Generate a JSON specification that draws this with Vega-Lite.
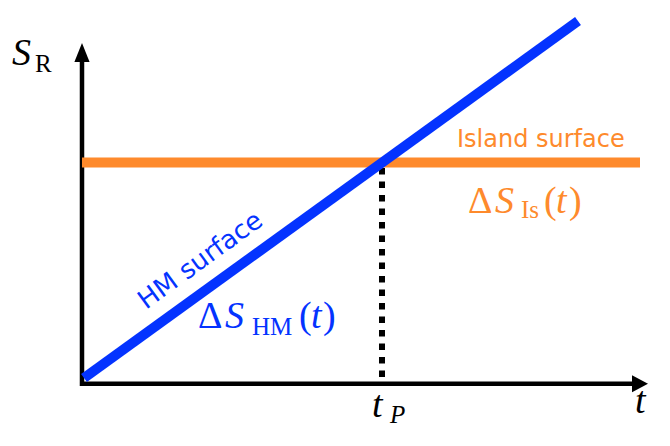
{
  "$schema": "https://vega.github.io/schema/vega-lite/v6.json",
  "width": 670,
  "height": 446,
  "autosize": {"type": "fit", "contains": "padding"},
  "padding": 0,
  "background": "white",
  "config": {"view": {"stroke": null}},
  "datasets": {
    "island": [{"t": 0, "S": 1, "series": "island"}, {"t": 1.86, "S": 1, "series": "island"}],
    "hm": [{"t": 0.0067, "S": 0.0227, "series": "hm"}, {"t": 1.6533, "S": 1.6417, "series": "hm"}],
    "axes": [
      {"t": 0, "S": -0.0136, "t2": 0, "S2": 1.47, "series": "axis"},
      {"t": -0.0067, "S": -0.003, "t2": 1.84, "S2": -0.003, "series": "axis"}
    ],
    "tp": [{"t": 1, "S": 0.027, "S2": 0.975, "series": "axis"}],
    "arrowUp": [{"t": 0, "S": 1.4989, "series": "axis"}],
    "arrowRight": [{"t": 1.86, "S": -0.003, "series": "axis"}],
    "mathItalic": [
      {"t": -0.2333, "S": 1.4422, "txt": "S", "series": "axis"},
      {"t": 0.9667, "S": -0.1542, "txt": "t", "series": "axis"},
      {"t": 1.8433, "S": -0.1361, "txt": "t", "series": "axis"},
      {"t": 1.3767, "S": 0.771, "txt": "S", "series": "island"},
      {"t": 1.58, "S": 0.771, "txt": "t", "series": "island"},
      {"t": 0.4767, "S": 0.2494, "txt": "S", "series": "hm"},
      {"t": 0.7633, "S": 0.2494, "txt": "t", "series": "hm"}
    ],
    "mathRoman": [
      {"t": 1.2867, "S": 0.771, "txt": "Δ", "series": "island"},
      {"t": 1.54, "S": 0.771, "txt": "(", "series": "island"},
      {"t": 1.6233, "S": 0.771, "txt": ")", "series": "island"},
      {"t": 0.3867, "S": 0.2494, "txt": "Δ", "series": "hm"},
      {"t": 0.7233, "S": 0.2494, "txt": "(", "series": "hm"},
      {"t": 0.8033, "S": 0.2494, "txt": ")", "series": "hm"}
    ],
    "subRoman": [
      {"t": -0.1567, "S": 1.4104, "txt": "R", "series": "axis"},
      {"t": 1.4633, "S": 0.7483, "txt": "Is", "series": "island"},
      {"t": 0.5667, "S": 0.2177, "txt": "HM", "series": "hm"}
    ],
    "subItalic": [
      {"t": 1.0267, "S": -0.1814, "txt": "P", "series": "axis"}
    ],
    "labelIsland": [{"t": 1.25, "S": 1.0703, "txt": "Island surface", "series": "island"}],
    "labelHM": [{"t": 0.2133, "S": 0.3311, "txt": "HM surface", "series": "hm"}]
  },
  "encoding": {
    "x": {"field": "t", "type": "quantitative", "scale": {"domain": [-0.27333, 1.96], "nice": false, "zero": false}, "axis": null},
    "y": {"field": "S", "type": "quantitative", "scale": {"domain": [-0.28571, 1.73696], "nice": false, "zero": false}, "axis": null},
    "color": {"field": "series", "type": "nominal", "scale": {"domain": ["hm", "island", "axis"], "range": ["#0433ff", "#fe8a2c", "#000000"]}, "legend": null}
  },
  "layer": [
    {
      "data": {"name": "axes"},
      "mark": {"type": "rule", "strokeWidth": 4.5},
      "encoding": {"x2": {"field": "t2"}, "y2": {"field": "S2"}}
    },
    {
      "data": {"name": "arrowUp"},
      "mark": {"type": "point", "shape": "M0,-1L-0.8,1L0.8,1Z", "size": 361, "filled": true, "opacity": 1, "strokeWidth": 0}
    },
    {
      "data": {"name": "arrowRight"},
      "mark": {"type": "point", "shape": "M0.94,0L-0.94,-1L-0.94,1Z", "size": 289, "filled": true, "opacity": 1, "strokeWidth": 0}
    },
    {
      "data": {"name": "tp"},
      "mark": {"type": "rule", "strokeWidth": 6, "strokeDash": [6.5, 7]},
      "encoding": {"y2": {"field": "S2"}}
    },
    {
      "data": {"name": "island"},
      "mark": {"type": "line", "strokeWidth": 10, "strokeCap": "butt"}
    },
    {
      "data": {"name": "hm"},
      "mark": {"type": "line", "strokeWidth": 10, "strokeCap": "butt"}
    },
    {
      "data": {"name": "mathItalic"},
      "mark": {"type": "text", "font": "Liberation Serif", "fontStyle": "italic", "fontSize": 38, "align": "left", "baseline": "alphabetic"},
      "encoding": {"text": {"field": "txt"}}
    },
    {
      "data": {"name": "mathRoman"},
      "mark": {"type": "text", "font": "Liberation Serif", "fontStyle": "normal", "fontSize": 38, "align": "left", "baseline": "alphabetic"},
      "encoding": {"text": {"field": "txt"}}
    },
    {
      "data": {"name": "subRoman"},
      "mark": {"type": "text", "font": "Liberation Serif", "fontStyle": "normal", "fontSize": 25, "align": "left", "baseline": "alphabetic"},
      "encoding": {"text": {"field": "txt"}}
    },
    {
      "data": {"name": "subItalic"},
      "mark": {"type": "text", "font": "Liberation Serif", "fontStyle": "italic", "fontSize": 25, "align": "left", "baseline": "alphabetic"},
      "encoding": {"text": {"field": "txt"}}
    },
    {
      "data": {"name": "labelIsland"},
      "mark": {"type": "text", "font": "DejaVu Sans", "fontSize": 24, "align": "left", "baseline": "alphabetic"},
      "encoding": {"text": {"field": "txt"}}
    },
    {
      "data": {"name": "labelHM"},
      "mark": {"type": "text", "font": "DejaVu Sans", "fontSize": 26, "align": "left", "baseline": "alphabetic", "angle": -36},
      "encoding": {"text": {"field": "txt"}}
    }
  ]
}
